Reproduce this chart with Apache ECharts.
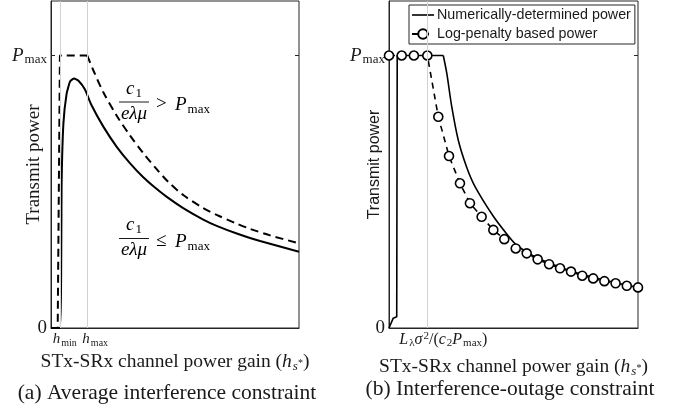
<!DOCTYPE html>
<html>
<head>
<meta charset="utf-8">
<script src="https://cdn.jsdelivr.net/npm/echarts@6/dist/echarts.min.js"></script>
<style>
  html, body { margin: 0; padding: 0; background: #fff; }
  #chart { width: 673px; height: 411px; }
</style>
</head>
<body>
<div id="chart"></div>
<script>
// (a) average interference constraint
const avgSolidH = [0, 0.36, 0.43, 0.50, 0.63, 0.77, 0.93, 1.10, 1.37, 1.62, 2.11, 2.65, 3.19, 3.72, 4.13, 4.67, 5.33, 6.14, 6.68, 7.49, 8.43, 10.0];
const avgSolidP = [0, 0, 0.54, 0.75, 0.86, 0.905, 0.916, 0.908, 0.875, 0.82, 0.739, 0.665, 0.604, 0.553, 0.520, 0.481, 0.440, 0.398, 0.375, 0.347, 0.319, 0.280];
const avgDashH = [0, 0.27, 0.36, 1.46, 1.71, 2.11, 2.65, 3.19, 3.72, 4.26, 4.73, 5.33, 6.14, 6.68, 7.49, 8.02, 8.83, 10.0];
const avgDashP = [0, 0, 1, 1, 0.945, 0.865, 0.779, 0.706, 0.642, 0.583, 0.536, 0.488, 0.440, 0.415, 0.383, 0.364, 0.340, 0.311];
const avgDashCorner = 3; // index where the flat Pmax part ends
const hMin = 0.39;
const hMax = 1.46;

// (b) interference-outage constraint
const outSolidH = [0, 0.17, 0.31, 0.33, 0.33, 2.18, 2.32, 2.52, 2.78, 3.12, 3.45, 4.19, 4.73, 5.09, 5.53, 6.00, 7.34, 8.67, 10.0];
const outSolidP = [0, 0.036, 0.041, 0.041, 1, 1, 0.935, 0.812, 0.690, 0.590, 0.520, 0.410, 0.345, 0.307, 0.279, 0.255, 0.208, 0.175, 0.149];
const outSolidCorner = 5;
const logPenH = [0, 0.51, 1.0, 1.54, 1.98, 2.41, 2.85, 3.25, 3.72, 4.19, 4.63, 5.09, 5.53, 5.97, 6.43, 6.87, 7.31, 7.76, 8.20, 8.65, 9.10, 9.55, 10.0];
const logPenP = [1, 1, 1, 1, 0.775, 0.631, 0.531, 0.458, 0.408, 0.360, 0.326, 0.292, 0.274, 0.252, 0.234, 0.219, 0.207, 0.192, 0.182, 0.172, 0.164, 0.155, 0.149];
const outThreshold = 1.54;

const pMax = 1;
const seriesNames = ['Numerically-determined power', 'Log-penalty based power'];

const zip = (xs, ys) => xs.map((x, i) => [x, ys[i]]);

const serif = 'Liberation Serif';
const sans = 'Liberation Sans';
const ink = '#1a1a1a';
const frame = '#262626';

// rich text pieces for the math labels
const mathRich = (size) => ({
  i: { fontFamily: serif, fontStyle: 'italic', fontSize: size, color: ink },
  n: { fontFamily: serif, fontSize: size, color: ink },
  s: { fontFamily: serif, fontSize: Math.round(size * 0.68), color: ink, padding: [Math.round(size * 0.45), 0, 0, 1] },
  si: { fontFamily: serif, fontStyle: 'italic', fontSize: Math.round(size * 0.68), color: ink, padding: [Math.round(size * 0.45), 0, 0, 1] },
  p: { fontFamily: serif, fontSize: Math.round(size * 0.68), color: ink, padding: [0, 0, Math.round(size * 0.45), 1] },
  ps: { fontFamily: serif, fontSize: Math.round(size * 0.5), color: ink, padding: [Math.round(size * 0.15), 0, 0, 0] },
  gap: { width: 8 }
});

const chart = echarts.init(document.getElementById('chart'));

const yLabel = (v) => v === 0 ? '{n|0}' : '{i|P}{s|max}';

const xName = 'STx-SRx channel power gain ({i|h}{si|s}{ps|*})';

function xAxisBase(grid, ticks, formatter, labelSize, labelPad, gap) {
  return {
    gridIndex: grid, type: 'value', min: 0, max: 10,
    axisLine: { show: true, lineStyle: { color: frame, width: 1 } },
    axisTick: { show: true, inside: true, length: 4, customValues: ticks, lineStyle: { color: frame } },
    axisLabel: { show: true, customValues: ticks, formatter: formatter, margin: 3, hideOverlap: false,
      fontFamily: serif, fontSize: labelSize, rich: mathRich(labelSize), padding: labelPad },
    splitLine: { show: false },
    name: xName, nameLocation: 'middle', nameGap: gap, nameMoveOverlap: false,
    nameTextStyle: { fontFamily: serif, fontSize: 19.5, color: ink, rich: mathRich(19.5) }
  };
}

function yAxisBase(grid, name, nameFont, nameSize, gap) {
  return {
    gridIndex: grid, type: 'value', min: 0, max: 1.2,
    axisLine: { show: true, lineStyle: { color: frame, width: 1 } },
    axisTick: { show: true, inside: true, length: 4, customValues: [0, pMax], lineStyle: { color: frame } },
    axisLabel: { show: true, customValues: [0, pMax], formatter: yLabel, margin: 4,
      fontFamily: serif, fontSize: 19, rich: mathRich(19) },
    splitLine: { show: false },
    name: name, nameLocation: 'middle', nameGap: gap, nameMoveOverlap: false,
    nameTextStyle: { fontFamily: nameFont, fontSize: nameSize, color: ink }
  };
}

function yAxisRight(grid) {
  return {
    gridIndex: grid, type: 'value', min: 0, max: 1.2, position: 'right',
    axisLine: { show: false },
    axisTick: { show: true, inside: true, length: 4, customValues: [pMax], lineStyle: { color: frame } },
    axisLabel: { show: false },
    splitLine: { show: false }
  };
}

const greyLine = { color: '#d2d2d2', width: 1, type: 'solid' };
const avgDash = zip(avgDashH, avgDashP);
const outSolid = zip(outSolidH, outSolidP);

const option = {
  animation: false,
  backgroundColor: '#fff',
  grid: [
    { left: 51, top: 1, width: 248, height: 327, show: true, borderColor: frame, borderWidth: 1, outerBoundsMode: 'none', containLabel: false },
    { left: 389, top: 1, width: 249, height: 327, show: true, borderColor: frame, borderWidth: 1, outerBoundsMode: 'none', containLabel: false }
  ],
  xAxis: [
    xAxisBase(0, [hMin, hMax], (v) => v === hMin ? '{i|h}{s|min}' : '{gap|}{i|h}{s|max}', 15, [0, 0, 0, 8], 23),
    xAxisBase(1, [outThreshold], () => '{i|L}{s|λ}{i|σ}{p|2}{n|/(}{i|c}{s|2}{i|P}{s|max}{n|)}', 16, [0, 0, 0, 32], 28)
  ],
  yAxis: [
    yAxisBase(0, 'Transmit power', serif, 19, 7),
    yAxisRight(0),
    yAxisBase(1, 'Transmit power', sans, 16, 6),
    yAxisRight(1)
  ],
  legend: {
    show: true,
    data: [
      { name: seriesNames[0], icon: 'path://M0,0H22V1.6H0Z', itemStyle: { color: '#000' } },
      seriesNames[1]
    ],
    orient: 'vertical',
    left: 409, top: 5,
    padding: [3, 4, 3, 2],
    itemGap: 5,
    itemWidth: 22, itemHeight: 12,
    symbolKeepAspect: true,
    borderColor: frame, borderWidth: 1,
    backgroundColor: '#fff',
    textStyle: { fontFamily: sans, fontSize: 14.3, color: ink, padding: [0, 0, 0, -2] }
  },
  series: [
    {
      type: 'line', xAxisIndex: 0, yAxisIndex: 0, data: [], z: 1,
      markLine: { silent: true, symbol: ['none', 'none'], label: { show: false }, lineStyle: greyLine,
        data: [{ xAxis: hMin }, { xAxis: hMax }] }
    },
    {
      type: 'line', xAxisIndex: 0, yAxisIndex: 0, data: zip(avgSolidH, avgSolidP),
      symbol: 'none', smooth: 0.15, z: 3,
      lineStyle: { color: '#000', width: 2 }
    },
    {
      type: 'line', xAxisIndex: 0, yAxisIndex: 0, data: avgDash.slice(0, avgDashCorner + 1),
      symbol: 'none', z: 3,
      lineStyle: { color: '#000', width: 2, type: [8, 5] }
    },
    {
      type: 'line', xAxisIndex: 0, yAxisIndex: 0, data: avgDash.slice(avgDashCorner),
      symbol: 'none', smooth: 0.3, z: 3,
      lineStyle: { color: '#000', width: 2, type: [8, 5] }
    },
    {
      type: 'line', xAxisIndex: 1, yAxisIndex: 2, data: [], z: 1,
      markLine: { silent: true, symbol: ['none', 'none'], label: { show: false }, lineStyle: greyLine,
        data: [{ xAxis: outThreshold }] }
    },
    {
      name: seriesNames[0],
      type: 'line', xAxisIndex: 1, yAxisIndex: 2, data: outSolid.slice(0, outSolidCorner + 1),
      symbol: 'none', z: 3, itemStyle: { color: '#000' },
      lineStyle: { color: '#000', width: 1.6 }
    },
    {
      name: seriesNames[0],
      type: 'line', xAxisIndex: 1, yAxisIndex: 2, data: outSolid.slice(outSolidCorner),
      symbol: 'none', smooth: 0.3, z: 3, itemStyle: { color: '#000' },
      lineStyle: { color: '#000', width: 1.6 }
    },
    {
      name: seriesNames[1],
      type: 'line', xAxisIndex: 1, yAxisIndex: 2, data: zip(logPenH, logPenP),
      symbol: 'circle', symbolSize: 9, showAllSymbol: true, clip: false, z: 4,
      itemStyle: { color: '#fff', borderColor: '#000', borderWidth: 1.6 },
      lineStyle: { color: '#000', width: 1.6, type: [6, 5] }
    }
  ],
  graphic: [
    // c1 / (e lambda mu) > Pmax
    { type: 'text', style: { x: 134, y: 100, align: 'center', verticalAlign: 'bottom', text: '{i|c}{s|1}', rich: mathRich(19) } },
    { type: 'line', shape: { x1: 119, y1: 102, x2: 149, y2: 102 }, style: { stroke: ink, lineWidth: 1 } },
    { type: 'text', style: { x: 134, y: 104, align: 'center', verticalAlign: 'top', text: '{i|eλμ}', rich: mathRich(19) } },
    { type: 'text', style: { x: 156, y: 104, align: 'left', verticalAlign: 'middle', text: '{n|>}', rich: mathRich(19) } },
    { type: 'text', style: { x: 175, y: 105, align: 'left', verticalAlign: 'middle', text: '{i|P}{s|max}', rich: mathRich(19) } },
    // c1 / (e lambda mu) <= Pmax
    { type: 'text', style: { x: 134, y: 236, align: 'center', verticalAlign: 'bottom', text: '{i|c}{s|1}', rich: mathRich(19) } },
    { type: 'line', shape: { x1: 119, y1: 238.5, x2: 149, y2: 238.5 }, style: { stroke: ink, lineWidth: 1 } },
    { type: 'text', style: { x: 134, y: 240, align: 'center', verticalAlign: 'top', text: '{i|eλμ}', rich: mathRich(19) } },
    { type: 'text', style: { x: 156, y: 241, align: 'left', verticalAlign: 'middle', text: '{n|≤}', rich: mathRich(19) } },
    { type: 'text', style: { x: 175, y: 242, align: 'left', verticalAlign: 'middle', text: '{i|P}{s|max}', rich: mathRich(19) } },
    // captions
    { type: 'text', style: { x: 167, y: 393, align: 'center', verticalAlign: 'middle', text: '(a) Average interference constraint', fontFamily: serif, fontSize: 21.5, fill: ink } },
    { type: 'text', style: { x: 510, y: 389, align: 'center', verticalAlign: 'middle', text: '(b) Interference-outage constraint', fontFamily: serif, fontSize: 21.5, fill: ink } }
  ]
};

chart.setOption(option);
</script>
</body>
</html>
